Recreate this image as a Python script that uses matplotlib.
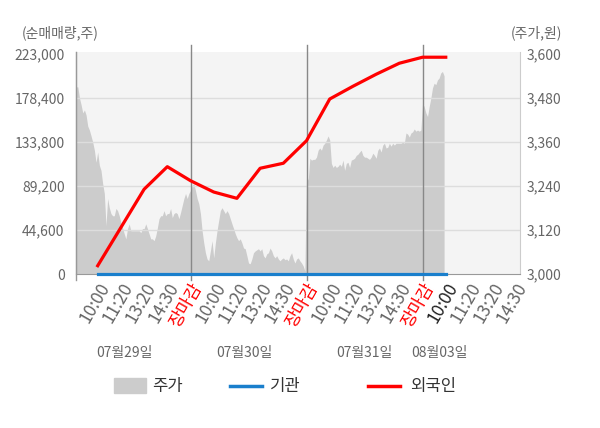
import numpy as np
import matplotlib.pyplot as plt
import matplotlib.transforms as mtransforms
from matplotlib.lines import Line2D
from matplotlib.patches import Rectangle

plt.rcParams['font.family'] = ['Noto Sans CJK KR', 'DejaVu Sans']

# intraday price (주가), one list per trading day
price_d1 = [3495, 3511, 3511, 3481, 3462, 3440, 3448, 3434, 3404, 3393,
            3377, 3360, 3338, 3305, 3333, 3297, 3283, 3247, 3220, 3132,
            3206, 3181, 3165, 3159, 3159, 3179, 3173, 3159, 3140, 3126,
            3110, 3096, 3124, 3137, 3118, 3118, 3118, 3118, 3118, 3118,
            3113, 3124, 3124, 3137, 3124, 3110, 3096, 3096, 3091, 3104,
            3126, 3151, 3159, 3159, 3173, 3159, 3165, 3165, 3179, 3154,
            3165, 3168, 3165, 3151, 3168, 3187, 3206, 3220, 3206, 3220]
price_d2 = [3228, 3242, 3247, 3228, 3206, 3192, 3165, 3118, 3085, 3058,
            3041, 3036, 3063, 3091, 3044, 3085, 3118, 3146, 3173, 3181,
            3173, 3165, 3173, 3165, 3151, 3137, 3124, 3110, 3099, 3091,
            3096, 3085, 3071, 3069, 3050, 3030, 3028, 3041, 3058, 3063,
            3066, 3069, 3063, 3069, 3050, 3044, 3055, 3058, 3071, 3063,
            3050, 3044, 3050, 3041, 3036, 3041, 3044, 3039, 3041, 3036,
            3050, 3058, 3041, 3030, 3041, 3044, 3036, 3030, 3022, 3008]
price_d3 = [3269, 3256, 3316, 3311, 3313, 3313, 3319, 3338, 3344, 3338,
            3352, 3357, 3366, 3377, 3366, 3302, 3291, 3297, 3291, 3294,
            3300, 3294, 3311, 3283, 3302, 3305, 3291, 3311, 3313, 3316,
            3324, 3327, 3333, 3338, 3324, 3319, 3319, 3316, 3313, 3319,
            3330, 3324, 3316, 3338, 3344, 3333, 3352, 3357, 3344, 3346,
            3357, 3349, 3357, 3352, 3357, 3357, 3357, 3357, 3360, 3357,
            3385, 3382, 3374, 3385, 3388, 3396, 3390, 3393, 3390, 3393]
price_d4 = [3466, 3457, 3440, 3430, 3457, 3480, 3508, 3521, 3517, 3530,
            3535, 3549, 3553, 3541]

# net buying volume (순매매량)
flow_x = [1, 2, 3, 4, 5, 6, 7, 8, 9, 10, 11, 12, 13, 14, 15, 16]
foreign = [8400, 47200, 86000, 108900, 94700, 83200, 76800, 107300,
           112400, 135300, 177600, 190500, 202700, 213900, 220000, 220000]
inst = [0, 0, 0, 0, 0, 0, 0, 0, 0, 0, 0, 0, 0, 0, 0, 0]

tick_pos = list(range(1, 20))
tick_labels = ['10:00', '11:20', '13:20', '14:30', '장마감',
               '10:00', '11:20', '13:20', '14:30', '장마감',
               '10:00', '11:20', '13:20', '14:30', '장마감',
               '10:00', '11:20', '13:20', '14:30']
day_labels = ['07월29일', '07월30일', '07월31일', '08월03일']
day_label_pos = [2.15, 7.32, 12.5, 15.73]
day_breaks = [5, 10, 15]
left_ticks = [0, 44600, 89200, 133800, 178400, 223000]
right_ticks = [3000, 3120, 3240, 3360, 3480, 3600]

price = price_d1 + price_d2 + price_d3 + price_d4
price_x = np.arange(len(price)) * (5 / 70)

fig = plt.figure(figsize=(6, 4.28), dpi=100)
ax = fig.add_axes([75.7 / 600, 1 - 274 / 428, 444.3 / 600, 222.3 / 428])
ax2 = ax.twinx()
ax.set_zorder(ax2.get_zorder() + 1)
ax.patch.set_visible(False)
ax2.patch.set_visible(True)
ax2.patch.set_facecolor('#f4f4f4')

# price area on the right axis
ax2.fill_between(price_x, 3000, price, color='#cccccc', lw=0)
ax2.set_ylim(3000, 3607)
ax2.set_yticks(right_ticks)
ax2.set_yticklabels([f'{v:,}' for v in right_ticks])
ax2.tick_params(axis='y', length=0, labelsize=10, labelcolor='#666666', pad=5)
for s in ax2.spines.values():
    s.set_visible(False)

# grid and flows on the left axis
for v in left_ticks[1:-1]:
    ax.axhline(v, color='#dddddd', lw=1, zorder=1)
ax.plot(flow_x, inst, color='#1a7fcc', lw=2.3, zorder=3, clip_on=False)
ax.plot(flow_x, foreign, color='#ff0000', lw=2.3, zorder=4)
ax.set_xlim(0.052, 19.2)
ax.set_ylim(0, 225600)
ax.set_yticks(left_ticks)
ax.set_yticklabels([f'{v:,}' for v in left_ticks])
ax.tick_params(axis='y', length=0, labelsize=10, labelcolor='#666666', pad=8)

ax.set_xticks(tick_pos)
ax.set_xticklabels(tick_labels, rotation=60, ha='right', rotation_mode='anchor')
ax.tick_params(axis='x', length=0, labelsize=12.5, labelcolor='#666666', pad=4)
for i, t in enumerate(ax.get_xticklabels()):
    if tick_labels[i] == '장마감':
        t.set_color('#ff0000')
    elif i == 15:
        t.set_color('#222222')

ax.spines['top'].set_visible(False)
ax.spines['left'].set_color('#999999')
ax.spines['bottom'].set_color('#999999')
ax.spines['right'].set_color('#cccccc')

# day separators
vtrans = mtransforms.blended_transform_factory(ax.transData, ax.transAxes)
for b in day_breaks:
    ax.plot([b, b], [-0.025, 1.03], color='#888888', lw=1, transform=vtrans,
            clip_on=False, zorder=2)
ax.plot([0.052, 0.052], [-0.025, 1], color='#999999', lw=1, transform=vtrans,
        clip_on=False, zorder=2)

# day names below the ticks
dtrans = mtransforms.blended_transform_factory(ax.transData, fig.transFigure)
for p, lab in zip(day_label_pos, day_labels):
    ax.text(p, 1 - 353 / 428, lab, transform=dtrans, ha='center', va='center',
            fontsize=10, color='#666666')

fig.text(22 / 600, 1 - 33 / 428, '(순매매량,주)', ha='left', va='center',
         fontsize=10, color='#666666')
fig.text(562 / 600, 1 - 33 / 428, '(주가,원)', ha='right', va='center',
         fontsize=10, color='#666666')

# legend
ly = 1 - 386 / 428
fig.patches.append(Rectangle((114 / 600, 1 - 393 / 428), 32 / 600, 15 / 428,
                             transform=fig.transFigure, color='#cccccc'))
fig.text(152 / 600, ly, '주가', ha='left', va='center', fontsize=12, color='#333333')
fig.lines.append(Line2D([230 / 600, 262 / 600], [ly, ly], transform=fig.transFigure,
                        color='#1a7fcc', lw=2.5))
fig.text(270 / 600, ly, '기관', ha='left', va='center', fontsize=12, color='#333333')
fig.lines.append(Line2D([368 / 600, 400 / 600], [ly, ly], transform=fig.transFigure,
                        color='#ff0000', lw=2.5))
fig.text(410 / 600, ly, '외국인', ha='left', va='center', fontsize=12, color='#333333')

fig.savefig('out.png', dpi=100)
